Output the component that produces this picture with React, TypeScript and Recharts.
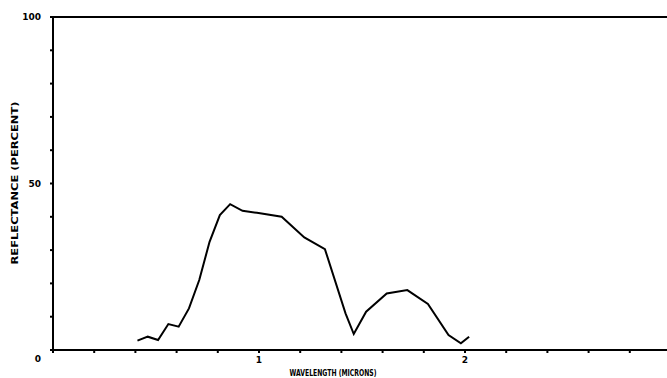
import { LineChart, Line, XAxis, YAxis, Label } from 'recharts';

// wavelength in microns, reflectance in percent
const wavelength = [
  0.41, 0.46, 0.51, 0.56, 0.61, 0.66, 0.71, 0.76, 0.81, 0.86, 0.92, 0.99, 1.11,
  1.22, 1.32, 1.42, 1.46, 1.52, 1.62, 1.72, 1.82, 1.92, 1.98, 2.02,
];
const reflectance = [
  2.8, 4.0, 3.0, 7.8, 7.0, 12.5, 21, 32.5, 40.5, 43.8, 41.8, 41.2, 40, 33.8, 30.3,
  11, 4.8, 11.5, 17, 18, 13.8, 4.5, 2, 4,
];

const xTicks = [0, 0.2, 0.4, 0.6, 0.8, 1, 1.2, 1.4, 1.6, 1.8, 2, 2.2, 2.4, 2.6, 2.8, 3];
const xLabels = [1, 2];
const yTicks = [0, 10, 20, 30, 40, 50, 60, 70, 80, 90, 100];
const yLabels = [0, 50, 100];

const data = wavelength.map((w, i) => ({ w, r: reflectance[i] }));

const FONT = '"DejaVu Sans", sans-serif';

const YTick = (props: any) => {
  const { x, y, payload } = props;
  if (!yLabels.includes(payload.value)) return null;
  return (
    <text
      x={x}
      y={y}
      dy={payload.value === 0 ? 12 : 3}
      textAnchor="end"
      fontFamily={FONT}
      fontWeight="bold"
      fontSize={9}
      fill="#000"
    >
      {payload.value}
    </text>
  );
};

const XTick = (props: any) => {
  const { x, y, payload } = props;
  const v = payload.value;
  if (!xLabels.some((l) => Math.abs(l - v) < 1e-6)) return null;
  return (
    <text x={x} y={y} dy={8} textAnchor="middle" fontFamily={FONT} fontWeight="bold" fontSize={9} fill="#000">
      {Math.round(v)}
    </text>
  );
};

const App = () => {
  return (
    <div
      style={{
        position: 'absolute',
        left: 0,
        top: 0,
        width: 667,
        height: 378,
        overflow: 'hidden',
        background: '#fff',
      }}
    >
      <div style={{ position: 'absolute', left: 8, top: 8 }}>
        <LineChart
          width={680}
          height={370}
          data={data}
          margin={{ top: 0, right: 0, bottom: 0, left: 0 }}
        >
          <XAxis
            xAxisId="b"
            dataKey="w"
            type="number"
            domain={[0, 3]}
            ticks={xTicks}
            height={28}
            stroke="#000"
            strokeWidth={2}
            tickSize={3}
            tickMargin={2}
            tick={<XTick />}
            interval={0}
          >
            <Label
              content={() => (
                <text
                  x={333 - 8}
                  y={376 - 8}
                  textAnchor="middle"
                  fontFamily={FONT}
                  fontWeight="bold"
                  fontSize={8}
                  textLength={87}
                  lengthAdjust="spacingAndGlyphs"
                  fill="#000"
                >
                  WAVELENGTH (MICRONS)
                </text>
              )}
            />
          </XAxis>
          <XAxis
            xAxisId="t"
            orientation="top"
            dataKey="w"
            type="number"
            domain={[0, 3]}
            ticks={xTicks}
            height={9}
            stroke="#000"
            strokeWidth={2}
            tickSize={3}
            tick={false}
            interval={0}
          />
          <YAxis
            yAxisId="l"
            domain={[0, 100]}
            ticks={yTicks}
            width={45}
            stroke="#000"
            strokeWidth={2}
            tickSize={3}
            tickMargin={9}
            tick={<YTick />}
            interval={0}
          >
            <Label
              content={() => (
                <text
                  x={15 - 8}
                  y={183 - 8}
                  transform={`rotate(-90, ${15 - 8}, ${183 - 8})`}
                  textAnchor="middle"
                  dominantBaseline="central"
                  fontFamily={FONT}
                  fontWeight="bold"
                  fontSize={9}
                  textLength={163}
                  lengthAdjust="spacingAndGlyphs"
                  fill="#000"
                >
                  REFLECTANCE (PERCENT)
                </text>
              )}
            />
          </YAxis>
          <YAxis
            yAxisId="r"
            orientation="right"
            domain={[0, 100]}
            ticks={yTicks}
            width={17}
            stroke="#000"
            strokeWidth={2}
            tickSize={3}
            tick={false}
          />
          <Line
            xAxisId="b"
            yAxisId="l"
            type="linear"
            dataKey="r"
            stroke="#000"
            strokeWidth={2}
            dot={false}
            isAnimationActive={false}
          />
        </LineChart>
      </div>
    </div>
  );
};

export default App;
